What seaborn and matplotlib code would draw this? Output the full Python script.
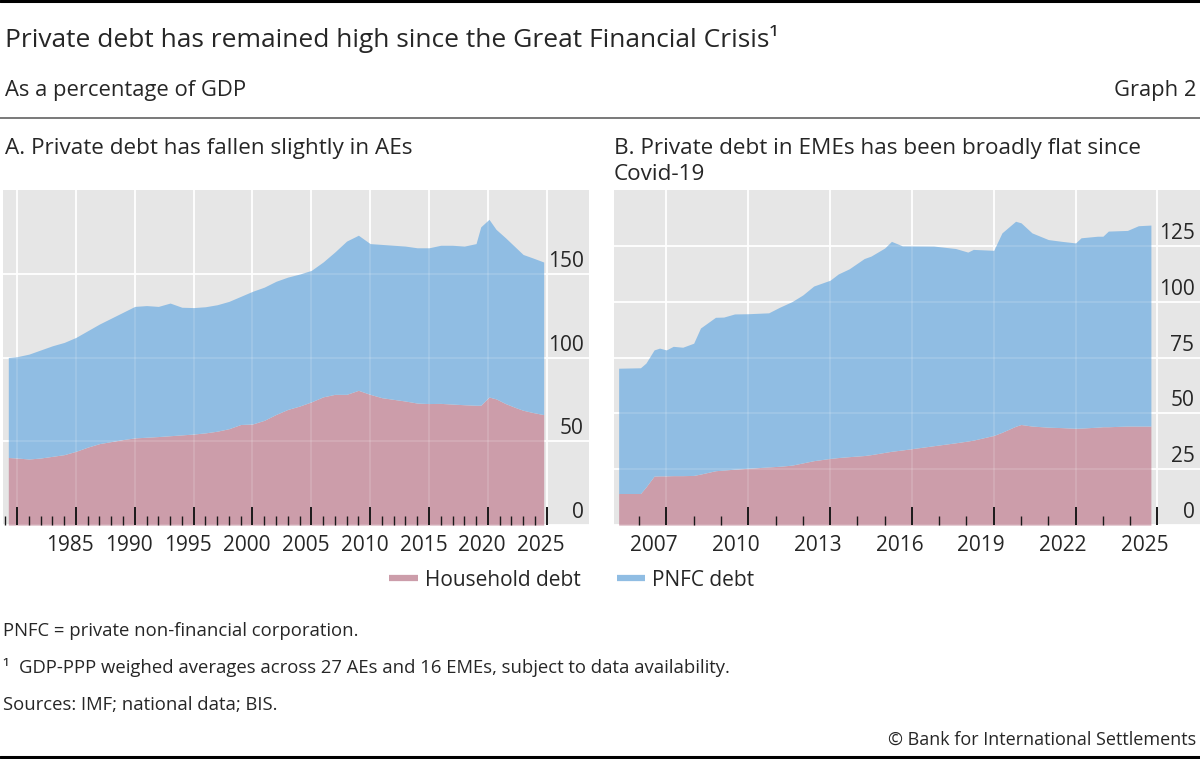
import numpy as np
import seaborn as sns
import matplotlib.pyplot as plt
from matplotlib.lines import Line2D
from matplotlib.transforms import ScaledTranslation

# panel A: advanced economies, % of GDP (top of stack = total private debt)
ae_years = [1979.25, 1980, 1981, 1982, 1983, 1984, 1985, 1986, 1987, 1988, 1989,
            1990, 1991, 1992, 1993, 1994, 1995, 1996, 1997, 1998, 1999, 2000,
            2001, 2002, 2003, 2004, 2005, 2006, 2007, 2008, 2009, 2010, 2011,
            2012, 2013, 2014, 2015, 2016, 2017, 2018, 2019, 2019.4, 2020.1,
            2020.7, 2021.5, 2022.4, 2023, 2023.8, 2024.75]
ae_household = [40.3, 40, 39.4, 40, 41, 42, 44, 46.5, 48.6, 49.8, 51,
                52, 52.4, 52.8, 53.3, 53.8, 54.3, 55, 56, 57.5, 60, 60.3,
                62.5, 66, 69, 71, 73.5, 76.5, 78, 78, 80.4, 78, 76,
                75, 74, 72.8, 72.5, 72.6, 72.2, 71.8, 71.5, 71.5, 76.4,
                75.3, 72.5, 70, 68.5, 67.2, 65.9]
ae_total = [100, 100.5, 102, 104.5, 107, 109, 112, 116, 120, 123.5, 127,
            130.5, 131, 130.5, 132.5, 130, 129.8, 130.3, 131.5, 133.5, 136.5, 139.5,
            142, 145.5, 148, 149.8, 152, 157, 163, 169.5, 173, 168, 167.5,
            167, 166.5, 165.5, 165.5, 167, 167, 166.5, 168, 178, 182.5,
            176.5, 171.5, 165.5, 161.5, 159.5, 157]

# panel B: emerging market economies
eme_years = [2005.25, 2006.05, 2006.25, 2006.55, 2006.75, 2007, 2007.25, 2007.6,
             2008, 2008.25, 2008.8, 2009.1, 2009.5, 2010, 2010.75, 2011.15,
             2011.6, 2012, 2012.4, 2013, 2013.3, 2013.7, 2014.25, 2014.5, 2015,
             2015.25, 2015.65, 2016.8, 2017.6, 2018.05, 2018.25, 2019, 2019.3,
             2019.8, 2020, 2020.4, 2021, 2021.5, 2022, 2022.2, 2022.8, 2023,
             2023.2, 2023.9, 2024.3, 2024.76]
eme_household = [14.1, 14.1, 17, 21.9, 22, 22, 22.1, 22.1,
                 22.2, 22.8, 24.3, 24.6, 25, 25.4, 26, 26.3,
                 26.8, 27.8, 28.8, 29.8, 30.2, 30.6, 31.1, 31.5, 32.5,
                 33, 33.6, 35.5, 36.8, 37.6, 38, 40.1, 41.5,
                 44.2, 45, 44.3, 43.8, 43.6, 43.3, 43.4, 43.8, 44,
                 44, 44.3, 44.3, 44.3]
eme_total = [70.2, 70.4, 72.5, 78.4, 79.2, 78.4, 80, 79.6,
             81.4, 88.2, 93, 93.1, 94.5, 94.6, 95, 97.5,
             100, 103, 107, 109.6, 112.4, 114.7, 119.3, 120.4, 124,
             127, 125, 124.9, 123.8, 122.2, 123.4, 123, 130.8,
             136, 135.3, 130.8, 127.8, 127, 126.3, 128.6, 129.3, 129.3,
             131.6, 131.9, 134, 134.3]

series_names = ["Household debt", "PNFC debt"]
colors = ["#CC9DAA", "#90BDE3"]

sns.set_style("darkgrid", {"axes.facecolor": "#E6E6E6", "grid.color": "white"})
plt.rcParams['font.family'] = ['Open Sans', 'DejaVu Sans']

fig = plt.figure(figsize=(12, 7.59), dpi=100)
H = 759.0
W = 1200.0


def ax_rect(x0, x1, y0, y1):
    return [x0 / W, 1 - y1 / H, (x1 - x0) / W, (y1 - y0) / H]


axA = fig.add_axes(ax_rect(3, 589, 190, 525))
axB = fig.add_axes(ax_rect(614, 1200, 190, 525))


def draw_panel(ax, years, hh, total, xlim, ylim, yticks, majors, labels, minors, lab_shift):
    hh = np.array(hh)
    pnfc = np.array(total) - hh
    ax.stackplot(years, hh, pnfc, colors=colors, labels=series_names, lw=0, zorder=1)
    ax.set_xlim(*xlim)
    ax.set_ylim(*ylim)
    for s in ax.spines.values():
        s.set_visible(False)
    # white grid below the areas (faintly showing through), ticks above them
    ax.grid(False)
    ax.set_axisbelow(False)
    for y in yticks:
        ax.axhline(y, color="white", lw=1.3, zorder=0.5)
        ax.axhline(y, color="white", lw=1.3, alpha=0.15, zorder=1.5)
    for x in majors:
        ax.axvline(x, color="white", lw=1.3, zorder=0.5)
        ax.axvline(x, color="white", lw=1.3, alpha=0.15, zorder=1.5)
    ax.set_xticks(majors, labels)
    ax.set_xticks(minors, minor=True)
    ax.tick_params(axis="x", which="major", direction="in", length=13, width=1.4,
                   color="#1a1a1a", labelsize=15, pad=7, bottom=True)
    ax.tick_params(axis="x", which="minor", direction="in", length=6.5, width=1.0,
                   color="#1a1a1a", bottom=True)
    off = ScaledTranslation(lab_shift / 72, 0, fig.dpi_scale_trans)
    for lab in ax.get_xticklabels():
        lab.set_transform(lab.get_transform() + off)
    ax.set_yticks(yticks)
    ax.yaxis.tick_right()
    ax.tick_params(axis="y", length=0, pad=0, labelsize=15, right=True)
    yoff = ScaledTranslation(-4 / 72, 5 / 72, fig.dpi_scale_trans)
    for lab in ax.get_yticklabels():
        lab.set_horizontalalignment("right")
        lab.set_verticalalignment("baseline")
        lab.set_transform(lab.get_transform() + yoff)


draw_panel(axA, ae_years, ae_household, ae_total, (1978.8, 2028.6), (0, 200),
           [0, 50, 100, 150], list(range(1980, 2026, 5)),
           [""] + [str(y) for y in range(1985, 2026, 5)],
           [y for y in range(1979, 2025) if y % 5 != 0], -4)
draw_panel(axB, eme_years, eme_household, eme_total, (2005.08, 2026.56), (0, 150),
           [0, 25, 50, 75, 100, 125], list(range(2007, 2026, 3)),
           [str(y) for y in range(2007, 2026, 3)],
           [y for y in range(2006, 2025) if (y - 2007) % 3 != 0], -9)

# header
fig.text(5 / W, 1 - 47 / H, "Private debt has remained high since the Great Financial Crisis\u00b9",
         fontsize=19, va="baseline", ha="left")
fig.text(5 / W, 1 - 96 / H, "As a percentage of GDP", fontsize=15.8, va="baseline")
fig.text(1196 / W, 1 - 96 / H, "Graph 2", fontsize=15.8, va="baseline", ha="right")
fig.text(5 / W, 1 - 154 / H, "A. Private debt has fallen slightly in AEs", fontsize=16.2, va="baseline")
fig.text(614 / W, 1 - 154 / H, "B. Private debt in EMEs has been broadly flat since",
         fontsize=16.2, va="baseline")
fig.text(614 / W, 1 - 180 / H, "Covid-19", fontsize=16.2, va="baseline")

fig.add_artist(Line2D([0, 1], [1 - 1.2 / H, 1 - 1.2 / H], transform=fig.transFigure,
                      color="black", lw=2.2))
fig.add_artist(Line2D([0, 1], [1 - 118 / H, 1 - 118 / H], transform=fig.transFigure,
                      color="#555555", lw=1.1))
fig.add_artist(Line2D([0, 1], [1 - 756.5 / H, 1 - 756.5 / H], transform=fig.transFigure,
                      color="black", lw=2.2))

# legend
handles = [Line2D([], [], color=c, lw=4.5, solid_capstyle="butt") for c in colors]
fig.legend(handles, series_names, loc="center", bbox_to_anchor=(572 / W, 1 - 580 / H),
           ncol=2, frameon=False, fontsize=15, handlelength=1.35, handletextpad=0.35,
           columnspacing=1.75)

# footer
fs = 13.3
fig.text(3 / W, 1 - 636 / H, "PNFC = private non-financial corporation.", fontsize=fs, va="baseline")
fig.text(3 / W, 1 - 673 / H, "\u00b9  GDP-PPP weighed averages across 27 AEs and 16 EMEs, subject to data availability.",
         fontsize=fs, va="baseline")
fig.text(3 / W, 1 - 710 / H, "Sources: IMF; national data; BIS.", fontsize=fs, va="baseline")
fig.text(1196 / W, 1 - 745 / H, "\u00a9 Bank for International Settlements", fontsize=13.0,
         va="baseline", ha="right")

fig.savefig("out.png", dpi=100)
